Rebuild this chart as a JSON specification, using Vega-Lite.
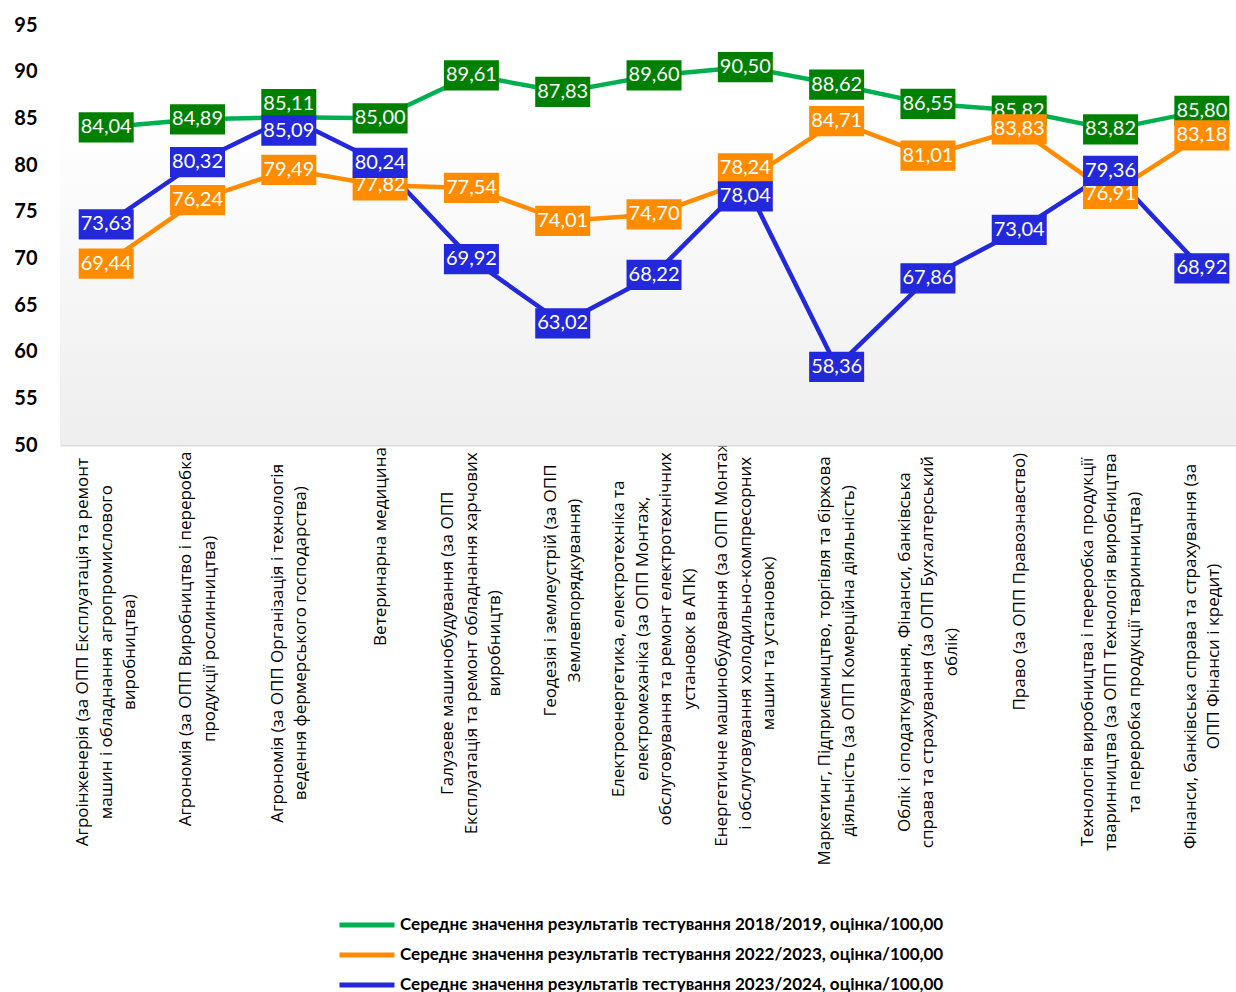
{
  "$schema": "https://vega.github.io/schema/vega-lite/v6.json",
  "autosize": {"type": "none"},
  "padding": {"left": 60, "top": 25, "right": 0, "bottom": 547},
  "width": 1176,
  "height": 420,
  "background": "white",
  "config": {
    "view": {"stroke": null},
    "locale": {"number": {"decimal": ",", "thousands": " ", "grouping": [3], "currency": ["", ""]}}
  },
  "datasets": {
    "scores": [
      {"cat": "Агроінженерія (за ОПП Експлуатація та ремонт|машин і обладнання агропромислового|виробництва)", "series": "Середнє значення результатів тестування 2018/2019, оцінка/100,00", "value": 84.04},
      {"cat": "Агрономія (за ОПП Виробництво і переробка|продукції рослинництва)", "series": "Середнє значення результатів тестування 2018/2019, оцінка/100,00", "value": 84.89},
      {"cat": "Агрономія (за ОПП Організація і технологія|ведення фермерського господарства)", "series": "Середнє значення результатів тестування 2018/2019, оцінка/100,00", "value": 85.11},
      {"cat": "Ветеринарна медицина", "series": "Середнє значення результатів тестування 2018/2019, оцінка/100,00", "value": 85.00},
      {"cat": "Галузеве машинобудування (за ОПП|Експлуатація та ремонт обладнання харчових|виробництв)", "series": "Середнє значення результатів тестування 2018/2019, оцінка/100,00", "value": 89.61},
      {"cat": "Геодезія і землеустрій (за ОПП|Землевпорядкування)", "series": "Середнє значення результатів тестування 2018/2019, оцінка/100,00", "value": 87.83},
      {"cat": "Електроенергетика, електротехніка та|електромеханіка (за ОПП Монтаж,|обслуговування та ремонт електротехнічних|установок в АПК)", "series": "Середнє значення результатів тестування 2018/2019, оцінка/100,00", "value": 89.60},
      {"cat": "Енергетичне машинобудування (за ОПП Монтаж|і обслуговування холодильно-компресорних|машин та установок)", "series": "Середнє значення результатів тестування 2018/2019, оцінка/100,00", "value": 90.50},
      {"cat": "Маркетинг, Підприємництво, торгівля та біржова|діяльність (за ОПП Комерційна діяльність)", "series": "Середнє значення результатів тестування 2018/2019, оцінка/100,00", "value": 88.62},
      {"cat": "Облік і оподаткування, Фінанси, банківська|справа та страхування (за ОПП Бухгалтерський|облік)", "series": "Середнє значення результатів тестування 2018/2019, оцінка/100,00", "value": 86.55},
      {"cat": "Право (за ОПП Правознавство)", "series": "Середнє значення результатів тестування 2018/2019, оцінка/100,00", "value": 85.82},
      {"cat": "Технологія виробництва і переробка продукції|тваринництва (за ОПП Технологія виробництва|та переробка продукції тваринництва)", "series": "Середнє значення результатів тестування 2018/2019, оцінка/100,00", "value": 83.82},
      {"cat": "Фінанси, банківська справа та страхування (за|ОПП Фінанси і кредит)", "series": "Середнє значення результатів тестування 2018/2019, оцінка/100,00", "value": 85.80},
      {"cat": "Агроінженерія (за ОПП Експлуатація та ремонт|машин і обладнання агропромислового|виробництва)", "series": "Середнє значення результатів тестування 2022/2023, оцінка/100,00", "value": 69.44},
      {"cat": "Агрономія (за ОПП Виробництво і переробка|продукції рослинництва)", "series": "Середнє значення результатів тестування 2022/2023, оцінка/100,00", "value": 76.24},
      {"cat": "Агрономія (за ОПП Організація і технологія|ведення фермерського господарства)", "series": "Середнє значення результатів тестування 2022/2023, оцінка/100,00", "value": 79.49},
      {"cat": "Ветеринарна медицина", "series": "Середнє значення результатів тестування 2022/2023, оцінка/100,00", "value": 77.82},
      {"cat": "Галузеве машинобудування (за ОПП|Експлуатація та ремонт обладнання харчових|виробництв)", "series": "Середнє значення результатів тестування 2022/2023, оцінка/100,00", "value": 77.54},
      {"cat": "Геодезія і землеустрій (за ОПП|Землевпорядкування)", "series": "Середнє значення результатів тестування 2022/2023, оцінка/100,00", "value": 74.01},
      {"cat": "Електроенергетика, електротехніка та|електромеханіка (за ОПП Монтаж,|обслуговування та ремонт електротехнічних|установок в АПК)", "series": "Середнє значення результатів тестування 2022/2023, оцінка/100,00", "value": 74.70},
      {"cat": "Енергетичне машинобудування (за ОПП Монтаж|і обслуговування холодильно-компресорних|машин та установок)", "series": "Середнє значення результатів тестування 2022/2023, оцінка/100,00", "value": 78.24},
      {"cat": "Маркетинг, Підприємництво, торгівля та біржова|діяльність (за ОПП Комерційна діяльність)", "series": "Середнє значення результатів тестування 2022/2023, оцінка/100,00", "value": 84.71},
      {"cat": "Облік і оподаткування, Фінанси, банківська|справа та страхування (за ОПП Бухгалтерський|облік)", "series": "Середнє значення результатів тестування 2022/2023, оцінка/100,00", "value": 81.01},
      {"cat": "Право (за ОПП Правознавство)", "series": "Середнє значення результатів тестування 2022/2023, оцінка/100,00", "value": 83.83},
      {"cat": "Технологія виробництва і переробка продукції|тваринництва (за ОПП Технологія виробництва|та переробка продукції тваринництва)", "series": "Середнє значення результатів тестування 2022/2023, оцінка/100,00", "value": 76.91},
      {"cat": "Фінанси, банківська справа та страхування (за|ОПП Фінанси і кредит)", "series": "Середнє значення результатів тестування 2022/2023, оцінка/100,00", "value": 83.18},
      {"cat": "Агроінженерія (за ОПП Експлуатація та ремонт|машин і обладнання агропромислового|виробництва)", "series": "Середнє значення результатів тестування 2023/2024, оцінка/100,00", "value": 73.63},
      {"cat": "Агрономія (за ОПП Виробництво і переробка|продукції рослинництва)", "series": "Середнє значення результатів тестування 2023/2024, оцінка/100,00", "value": 80.32},
      {"cat": "Агрономія (за ОПП Організація і технологія|ведення фермерського господарства)", "series": "Середнє значення результатів тестування 2023/2024, оцінка/100,00", "value": 85.09},
      {"cat": "Ветеринарна медицина", "series": "Середнє значення результатів тестування 2023/2024, оцінка/100,00", "value": 80.24},
      {"cat": "Галузеве машинобудування (за ОПП|Експлуатація та ремонт обладнання харчових|виробництв)", "series": "Середнє значення результатів тестування 2023/2024, оцінка/100,00", "value": 69.92},
      {"cat": "Геодезія і землеустрій (за ОПП|Землевпорядкування)", "series": "Середнє значення результатів тестування 2023/2024, оцінка/100,00", "value": 63.02},
      {"cat": "Електроенергетика, електротехніка та|електромеханіка (за ОПП Монтаж,|обслуговування та ремонт електротехнічних|установок в АПК)", "series": "Середнє значення результатів тестування 2023/2024, оцінка/100,00", "value": 68.22},
      {"cat": "Енергетичне машинобудування (за ОПП Монтаж|і обслуговування холодильно-компресорних|машин та установок)", "series": "Середнє значення результатів тестування 2023/2024, оцінка/100,00", "value": 78.04},
      {"cat": "Маркетинг, Підприємництво, торгівля та біржова|діяльність (за ОПП Комерційна діяльність)", "series": "Середнє значення результатів тестування 2023/2024, оцінка/100,00", "value": 58.36},
      {"cat": "Облік і оподаткування, Фінанси, банківська|справа та страхування (за ОПП Бухгалтерський|облік)", "series": "Середнє значення результатів тестування 2023/2024, оцінка/100,00", "value": 67.86},
      {"cat": "Право (за ОПП Правознавство)", "series": "Середнє значення результатів тестування 2023/2024, оцінка/100,00", "value": 73.04},
      {"cat": "Технологія виробництва і переробка продукції|тваринництва (за ОПП Технологія виробництва|та переробка продукції тваринництва)", "series": "Середнє значення результатів тестування 2023/2024, оцінка/100,00", "value": 79.36},
      {"cat": "Фінанси, банківська справа та страхування (за|ОПП Фінанси і кредит)", "series": "Середнє значення результатів тестування 2023/2024, оцінка/100,00", "value": 68.92}
    ]
  },
  "data": {"name": "scores"},
  "layer": [
    {
      "data": {"values": [{}]},
      "mark": {
        "type": "rect",
        "color": {"gradient": "linear", "x1": 0, "y1": 0, "x2": 0, "y2": 1,
          "stops": [{"offset": 0, "color": "#FFFFFF"}, {"offset": 0.22, "color": "#FFFFFF"}, {"offset": 1, "color": "#EEEEEE"}]}
      },
      "encoding": {
        "x": {"value": 0},
        "x2": {"value": "width"},
        "y": {"datum": 95, "type": "quantitative"},
        "y2": {"datum": 50}
      }
    },
    {
      "mark": {"type": "line", "strokeWidth": 4.5, "strokeCap": "round", "strokeJoin": "round"},
      "encoding": {
        "x": {
          "field": "cat", "type": "nominal", "sort": null,
          "scale": {"type": "point", "padding": 0.44, "align": 0.575},
          "axis": {
            "title": null,
            "labelExpr": "split(datum.label, '|')",
            "labelAngle": -90,
            "labelAlign": "center",
            "labelBaseline": "middle",
            "labelPadding": {"expr": "13 + 4.4*max(length(split(datum.value,'|')[0]), length(split(datum.value,'|')[1] || ''), length(split(datum.value,'|')[2] || ''), length(split(datum.value,'|')[3] || ''))"},
            "labelOffset": {
              "condition": [
                {"test": "length(split(datum.value, '|')) == 4", "value": -35.25},
                {"test": "length(split(datum.value, '|')) == 3", "value": -23.5},
                {"test": "length(split(datum.value, '|')) == 2", "value": -11.75}
              ],
              "value": 0
            },
            "labelFont": "Open Sans",
            "labelFontSize": 17,
            "labelLineHeight": 23.5,
            "labelColor": "#000000",
            "labelLimit": 0,
            "labelOverlap": false,
            "labelBound": false,
            "ticks": false,
            "domainColor": "#D9D9D9",
            "domainWidth": 2,
            "grid": true,
            "gridColor": "#D9D9D9",
            "gridWidth": 2
          }
        },
        "y": {
          "field": "value", "type": "quantitative",
          "scale": {"domain": [50, 95], "nice": false, "zero": false},
          "axis": {
            "title": null,
            "values": [50, 55, 60, 65, 70, 75, 80, 85, 90, 95],
            "grid": false,
            "domain": false,
            "ticks": false,
            "labelFont": "Lato",
            "labelFontWeight": "bold",
            "labelFontSize": 20,
            "labelColor": "#000000",
            "labelPadding": 23
          }
        },
        "color": {
          "field": "series", "type": "nominal",
          "scale": {
            "domain": [
              "Середнє значення результатів тестування 2018/2019, оцінка/100,00",
              "Середнє значення результатів тестування 2022/2023, оцінка/100,00",
              "Середнє значення результатів тестування 2023/2024, оцінка/100,00"
            ],
            "range": ["#00B050", "#FF8C00", "#2328DA"]
          },
          "legend": {
            "title": null,
            "orient": "none",
            "legendX": 277,
            "legendY": 885,
            "direction": "vertical",
            "symbolType": "stroke",
            "symbolSize": 3025,
            "symbolStrokeWidth": 5,
            "clipHeight": 30,
            "rowPadding": 0,
            "labelOffset": 3,
            "labelFont": "Lato",
            "labelFontWeight": "bold",
            "labelFontSize": 17,
            "labelColor": "#000000",
            "labelLimit": 0
          }
        }
      }
    },
    {
      "transform": [
        {"window": [{"op": "lag", "field": "value", "as": "lowerV"}, {"op": "lead", "field": "value", "as": "upperV"}], "groupby": ["cat"], "sort": [{"field": "value", "order": "ascending"}]},
        {"calculate": "datum.value + (isValid(datum.upperV) && datum.upperV - datum.value < 1 ? -1.4 : 0) + (isValid(datum.lowerV) && datum.value - datum.lowerV < 1 ? 1.4 : 0)", "as": "labelY"},
        {"filter": "indexof(datum.series, '2018/2019') >= 0"}
      ],
      "layer": [
        {"mark": {"type": "point", "shape": "M-1,-0.55H1V0.55H-1Z", "size": 3025, "filled": true, "opacity": 1, "color": "#008000", "strokeWidth": 0},
         "encoding": {"x": {"field": "cat", "type": "nominal", "sort": null}, "y": {"field": "labelY", "type": "quantitative"}}},
        {"mark": {"type": "text", "font": "Lato", "fontSize": 20, "color": "#FFFFFF", "align": "center", "baseline": "middle"},
         "encoding": {"x": {"field": "cat", "type": "nominal", "sort": null}, "y": {"field": "labelY", "type": "quantitative"}, "text": {"field": "value", "type": "quantitative", "format": ".2f"}}}
      ]
    },
    {
      "transform": [
        {"window": [{"op": "lag", "field": "value", "as": "lowerV"}, {"op": "lead", "field": "value", "as": "upperV"}], "groupby": ["cat"], "sort": [{"field": "value", "order": "ascending"}]},
        {"calculate": "datum.value + (isValid(datum.upperV) && datum.upperV - datum.value < 1 ? -1.4 : 0) + (isValid(datum.lowerV) && datum.value - datum.lowerV < 1 ? 1.4 : 0)", "as": "labelY"},
        {"filter": "indexof(datum.series, '2022/2023') >= 0"}
      ],
      "layer": [
        {"mark": {"type": "point", "shape": "M-1,-0.55H1V0.55H-1Z", "size": 3025, "filled": true, "opacity": 1, "color": "#FF8C00", "strokeWidth": 0},
         "encoding": {"x": {"field": "cat", "type": "nominal", "sort": null}, "y": {"field": "labelY", "type": "quantitative"}}},
        {"mark": {"type": "text", "font": "Lato", "fontSize": 20, "color": "#FFFFFF", "align": "center", "baseline": "middle"},
         "encoding": {"x": {"field": "cat", "type": "nominal", "sort": null}, "y": {"field": "labelY", "type": "quantitative"}, "text": {"field": "value", "type": "quantitative", "format": ".2f"}}}
      ]
    },
    {
      "transform": [
        {"window": [{"op": "lag", "field": "value", "as": "lowerV"}, {"op": "lead", "field": "value", "as": "upperV"}], "groupby": ["cat"], "sort": [{"field": "value", "order": "ascending"}]},
        {"calculate": "datum.value + (isValid(datum.upperV) && datum.upperV - datum.value < 1 ? -1.4 : 0) + (isValid(datum.lowerV) && datum.value - datum.lowerV < 1 ? 1.4 : 0)", "as": "labelY"},
        {"filter": "indexof(datum.series, '2023/2024') >= 0"}
      ],
      "layer": [
        {"mark": {"type": "point", "shape": "M-1,-0.55H1V0.55H-1Z", "size": 3025, "filled": true, "opacity": 1, "color": "#2328DA", "strokeWidth": 0},
         "encoding": {"x": {"field": "cat", "type": "nominal", "sort": null}, "y": {"field": "labelY", "type": "quantitative"}}},
        {"mark": {"type": "text", "font": "Lato", "fontSize": 20, "color": "#FFFFFF", "align": "center", "baseline": "middle"},
         "encoding": {"x": {"field": "cat", "type": "nominal", "sort": null}, "y": {"field": "labelY", "type": "quantitative"}, "text": {"field": "value", "type": "quantitative", "format": ".2f"}}}
      ]
    }
  ]
}
